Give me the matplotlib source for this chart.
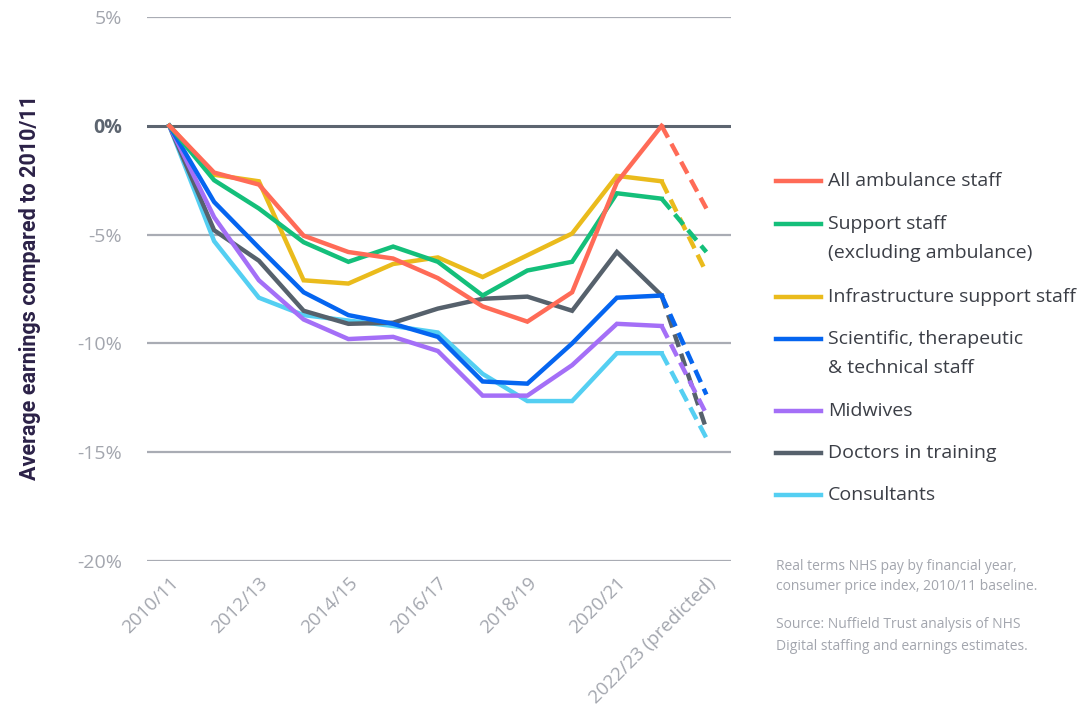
import matplotlib
matplotlib.use("Agg")
import matplotlib.pyplot as plt
from matplotlib.lines import Line2D

years = ["2010/11", "2011/12", "2012/13", "2013/14", "2014/15", "2015/16", "2016/17",
         "2017/18", "2018/19", "2019/20", "2020/21", "2021/22", "2022/23 (predicted)"]
tick_labels = ["2010/11", "2012/13", "2014/15", "2016/17", "2018/19", "2020/21", "2022/23 (predicted)"]

ambulance = [0, -2.15, -2.7, -5.05, -5.8, -6.1, -7.0, -8.3, -9.0, -7.65, -2.6, 0.0, -3.8]
support = [0, -2.5, -3.8, -5.35, -6.25, -5.55, -6.25, -7.8, -6.65, -6.25, -3.1, -3.35, -5.8]
infrastructure = [0, -2.25, -2.55, -7.1, -7.25, -6.35, -6.05, -6.95, -5.95, -4.95, -2.3, -2.55, -6.75]
scientific = [0, -3.5, -5.6, -7.65, -8.7, -9.1, -9.7, -11.75, -11.85, -10.0, -7.9, -7.8, -12.35]
midwives = [0, -4.2, -7.1, -8.9, -9.8, -9.7, -10.35, -12.4, -12.4, -11.0, -9.1, -9.2, -13.25]
doctors = [0, -4.8, -6.2, -8.5, -9.1, -9.05, -8.4, -7.95, -7.85, -8.5, -5.8, -7.8, -13.95]
consultants = [0, -5.3, -7.9, -8.7, -8.95, -9.2, -9.5, -11.4, -12.65, -12.65, -10.45, -10.45, -14.35]

series = [
    (["All ambulance staff"], ambulance, "#ff6b57"),
    (["Support staff", "(excluding ambulance)"], support, "#14bf7a"),
    (["Infrastructure support staff"], infrastructure, "#eabb1c"),
    (["Scientific, therapeutic", "& technical staff"], scientific, "#0565f0"),
    (["Midwives"], midwives, "#a46ff7"),
    (["Doctors in training"], doctors, "#56616c"),
    (["Consultants"], consultants, "#54cff2"),
]

plt.rcParams['font.family'] = ['Open Sans', 'DejaVu Sans']

fig = plt.figure(figsize=(10.89, 7.18), dpi=100)
ax = fig.add_axes([147 / 1089, 1 - 561 / 718, (731 - 147) / 1089, (561 - 17) / 718])

x = list(range(len(years)))
for name, vals, col in reversed(series):
    ax.plot(x[:12], vals[:12], color=col, lw=3.2, solid_joinstyle='miter', zorder=3)
    ax.plot(x[11:], vals[11:], color=col, lw=3.2, dashes=(3, 1.6), zorder=3)

ax.set_xlim(-0.5, 12.55)
ax.set_ylim(-20, 5)
yt = [5, 0, -5, -10, -15, -20]
ax.set_yticks(yt)
ax.set_yticklabels([f"{v}%" for v in yt])
for v in yt:
    if v == 0:
        ax.axhline(v, color="#5d6570", lw=2.2, zorder=2)
    else:
        ax.axhline(v, color="#a9acb4", lw=1.6, zorder=1)

ax.set_xticks(x[::2])
ax.set_xticklabels(tick_labels, rotation=45, ha='right', rotation_mode='anchor')
for s in ax.spines.values():
    s.set_visible(False)
ax.tick_params(length=0)
ax.tick_params(axis='y', pad=18, labelsize=14, labelcolor="#a3a6ae")
ax.tick_params(axis='x', pad=9, labelsize=13.5, labelcolor="#a3a6ae")
for lab in ax.get_yticklabels():
    if lab.get_text() == "0%":
        lab.set_color("#5d6570")
        lab.set_fontweight("bold")

fig.text(30 / 1089, 1 - 287 / 718, "Average earnings compared to 2010/11", rotation=90,
         ha='center', va='center', fontsize=15.5, fontweight='bold', color="#2b2147",
         family=['Roboto', 'DejaVu Sans'])

# legend drawn by hand
legend_y = [181, 224, 297, 339, 411, 453, 495]
for (lines, vals, col), ly in zip(series, legend_y):
    fy = 1 - ly / 718
    fig.add_artist(Line2D([776 / 1089, 821 / 1089], [fy, fy], color=col, lw=3.2))
    for k, txt in enumerate(lines):
        fig.text(828 / 1089, 1 - (ly + 29 * k) / 718, txt, ha='left', va='center',
                 fontsize=14, color="#3b3e46")

notes = ["Real terms NHS pay by financial year,", "consumer price index, 2010/11 baseline.",
         "Source: Nuffield Trust analysis of NHS", "Digital staffing and earnings estimates."]
for txt, ny in zip(notes, [566, 587, 625, 646]):
    fig.text(776 / 1089, 1 - ny / 718, txt, ha='left', va='center', fontsize=10,
             color="#a3a6ae")

fig.savefig("out.png", dpi=100, facecolor="white")
